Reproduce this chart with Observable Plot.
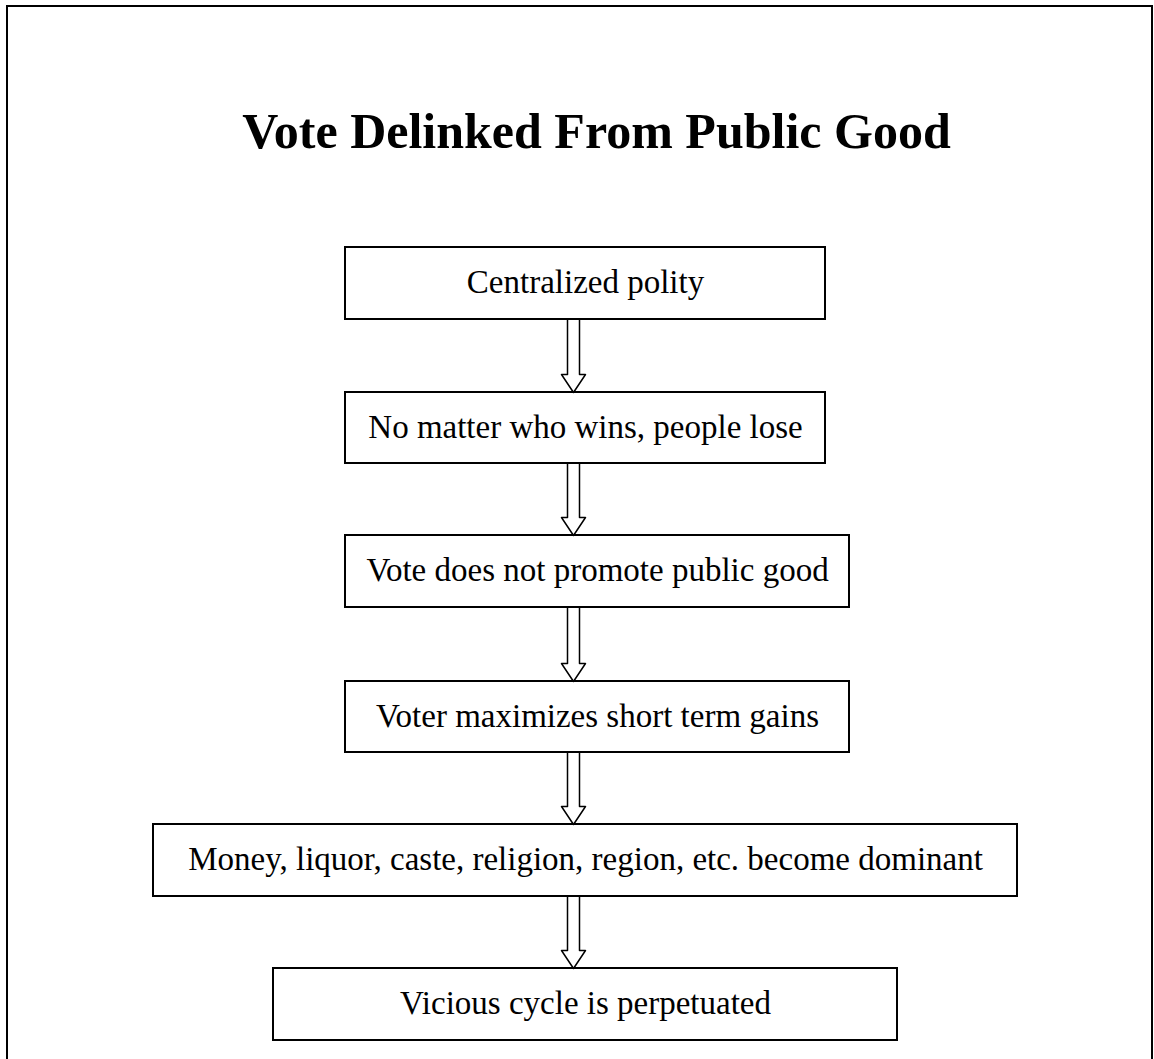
<!DOCTYPE html>
<html>
<head>
<meta charset="utf-8">
<script src="https://cdn.jsdelivr.net/npm/d3@7"></script>
<script src="https://cdn.jsdelivr.net/npm/@observablehq/plot@0.6"></script>
<style>
  html, body { margin: 0; padding: 0; background: #fff; }
  #chart svg { display: block; }
</style>
</head>
<body>
<div id="chart"></div>
<script>
// ---- Content ----
const title = "Vote Delinked From Public Good";
const steps = [
  "Centralized polity",
  "No matter who wins, people lose",
  "Vote does not promote public good",
  "Voter maximizes short term gains",
  "Money, liquor, caste, religion, region, etc. become dominant",
  "Vicious cycle is perpetuated"
];

// ---- Layout (page pixel coordinates) ----
const boxLeft   = [345, 345, 345, 345, 153, 273];
const boxRight  = [825, 825, 849, 849, 1017, 897];
const boxTop    = [247, 392, 535, 681, 824, 968];
const boxBottom = [319, 463, 607, 752, 896, 1040];
const arrowX = 573;
const shaftHalf = 6, headHalf = 12, headLen = 18;

const W = 1154, H = 1059;

const boxes = steps.map((label, i) => ({
  label, x1: boxLeft[i], x2: boxRight[i], y1: boxTop[i], y2: boxBottom[i]
}));

// hollow block arrows between consecutive boxes
const arrowPts = [];
for (let i = 0; i < boxes.length - 1; i++) {
  const a = boxes[i].y2, b = boxes[i + 1].y1, h = b - headLen;
  const pts = [
    [arrowX - shaftHalf, a], [arrowX - shaftHalf, h], [arrowX - headHalf, h],
    [arrowX, b], [arrowX + headHalf, h], [arrowX + shaftHalf, h],
    [arrowX + shaftHalf, a]
  ];
  pts.forEach(([x, y]) => arrowPts.push({id: i, x, y}));
}

const chart = Plot.plot({
  width: W, height: H,
  margin: 0,
  x: {domain: [0, W], range: [0, W], axis: null},
  y: {domain: [0, H], range: [0, H], axis: null},
  style: {background: "#fff"},
  marks: [
    // page frame
    Plot.rect([{x1: 7, x2: 1152, y1: 6, y2: 1080}], {
      x1: "x1", x2: "x2", y1: "y1", y2: "y2", fill: "none", stroke: "#000", strokeWidth: 2
    }),
    Plot.text([title], {
      x: 596, y: 131, text: d => d, fontFamily: "Liberation Serif, Times New Roman, serif",
      fontWeight: "bold", fontSize: 50, fill: "#000"
    }),
    Plot.rect(boxes, {
      x1: "x1", x2: "x2", y1: "y1", y2: "y2", fill: "#fff", stroke: "#000", strokeWidth: 2
    }),
    Plot.text(boxes, {
      x: d => (d.x1 + d.x2) / 2, y: d => (d.y1 + d.y2) / 2 - 1, text: "label",
      fontFamily: "Liberation Serif, Times New Roman, serif", fontSize: 33, fill: "#000"
    }),
    Plot.line(arrowPts, {
      x: "x", y: "y", z: "id", stroke: "#000", strokeWidth: 1.5, fill: "none", curve: "linear"
    })
  ]
});
document.getElementById("chart").appendChild(chart);
</script>
</body>
</html>
